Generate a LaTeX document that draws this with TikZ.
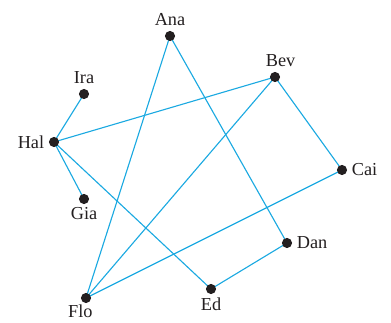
\documentclass[tikz,border=0pt]{standalone}
\usepackage{fontspec}
\setmainfont{Liberation Serif}
\usetikzlibrary{positioning,backgrounds}
\definecolor{edgeblue}{HTML}{1BA9E1}
\definecolor{ink}{HTML}{231F20}
\tikzset{
  vertex/.style={circle,fill=ink,draw=none,inner sep=0pt,minimum size=7.2pt},
  tag/.style={font=\fontsize{13}{14}\selectfont,text=ink,inner sep=1pt},
  link/.style={draw=edgeblue,line width=0.8pt},
  every label/.style={tag}
}
\begin{document}
\begin{tikzpicture}[x=0.025cm,y=-0.025cm,label distance=2pt]
\useasboundingbox (0,0) rectangle (391,323);
% people
\node[vertex,label=above:Ana] (ana) at (170,36) {};
\node[vertex,label={[xshift=4pt]above:Bev}] (bev) at (275,77) {};
\node[vertex,label=right:Cai] (cai) at (342,170) {};
\node[vertex,label=right:Dan] (dan) at (287,243) {};
\node[vertex,label={[label distance=1pt]below:Ed}] (ed) at (211,289) {};
\node[vertex,label={[xshift=-4pt,label distance=-0.5pt]below:Flo}] (flo) at (86,298) {};
\node[vertex,label={[label distance=1pt]below:Gia}] (gia) at (84,199) {};
\node[vertex,label=left:Hal] (hal) at (54,142) {};
\node[vertex,label=above:Ira] (ira) at (84,94) {};

% friendships
\begin{scope}[on background layer]
\draw[link] (ana.center) -- (flo.center);
\draw[link] (ana.center) -- (dan.center);
\draw[link] (bev.center) -- (hal.center);
\draw[link] (bev.center) -- (flo.center);
\draw[link] (bev.center) -- (cai.center);
\draw[link] (cai.center) -- (flo.center);
\draw[link] (dan.center) -- (ed.center);
\draw[link] (hal.center) -- (ed.center);
\draw[link] (hal.center) -- (ira.center);
\draw[link] (hal.center) -- (gia.center);
\end{scope}
\end{tikzpicture}
\end{document}
